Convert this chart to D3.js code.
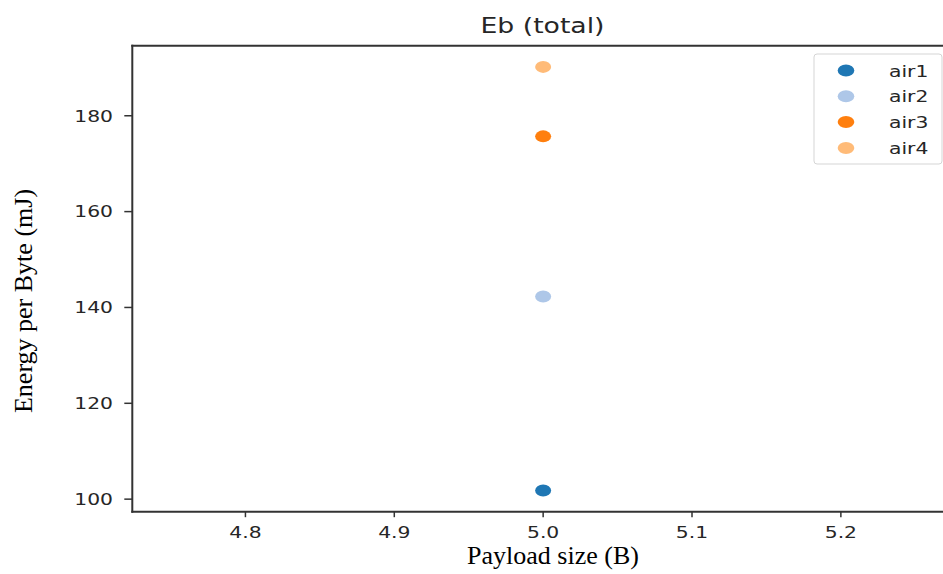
<!DOCTYPE html>
<html>
<head>
<meta charset="utf-8">
<script src="https://cdn.jsdelivr.net/npm/d3@7"></script>
<style>
  html, body { margin: 0; padding: 0; background: #fff; }
  svg { display: block; }
</style>
</head>
<body>
<svg id="chart" width="943" height="574"></svg>
<script>
// ---- data ----
const series = ["air1", "air2", "air3", "air4"];
const payload = [5.0, 5.0, 5.0, 5.0];
const energy = [101.8, 142.3, 175.7, 190.2];
const colors = ["#1f77b4", "#aec7e8", "#ff7f0e", "#ffbb78"];
const xTicks = [4.8, 4.9, 5.0, 5.1, 5.2];
const yTicks = [100, 120, 140, 160, 180];
const titleText = "Eb (total)";
const xLabel = "Payload size (B)";
const yLabel = "Energy per Byte (mJ)";

// ---- layout ----
const W = 943, H = 574;
const plot = { left: 132.3, top: 45.7, bottom: 511.7, right: 954 };
const SX = 1.27; // horizontal stretch of sans text in the reference
const sans = "'DejaVu Sans', sans-serif";
const serif = "'Liberation Serif', 'Times New Roman', serif";

const svg = d3.select("#chart");

// y domain with matplotlib-like 5% margins
const yMin = d3.min(energy), yMax = d3.max(energy);
const pad = (yMax - yMin) * 0.05;
const y = d3.scaleLinear().domain([yMin - pad, yMax + pad]).range([plot.bottom, plot.top]);
const x = d3.scaleLinear().domain([4.724, 5.276]).range([plot.left, plot.right]);

function sText(g, px, py, txt, size, anchor) {
  return g.append("text")
    .attr("transform", `translate(${px},${py}) scale(${SX},1)`)
    .attr("text-anchor", anchor)
    .attr("font-family", sans)
    .attr("font-size", size)
    .attr("fill", "#262626")
    .text(txt);
}

// ---- points ----
const pts = svg.append("g");
series.forEach((s, i) => {
  pts.append("ellipse")
    .attr("cx", x(payload[i]))
    .attr("cy", y(energy[i]))
    .attr("rx", 8).attr("ry", 6)
    .attr("fill", colors[i]);
});

// ---- axes ----
const axG = svg.append("g");
// spines
axG.append("line").attr("x1", plot.left).attr("x2", plot.left).attr("y1", plot.top - 1).attr("y2", plot.bottom + 1)
  .attr("stroke", "#333").attr("stroke-width", 2);
axG.append("line").attr("x1", plot.left - 1).attr("x2", W + 5).attr("y1", plot.bottom).attr("y2", plot.bottom)
  .attr("stroke", "#333").attr("stroke-width", 2);
axG.append("line").attr("x1", plot.left - 1).attr("x2", W + 5).attr("y1", plot.top).attr("y2", plot.top)
  .attr("stroke", "#333").attr("stroke-width", 2);

// y ticks
yTicks.forEach(t => {
  const py = y(t);
  axG.append("line").attr("x1", plot.left - 8).attr("x2", plot.left).attr("y1", py).attr("y2", py)
    .attr("stroke", "#333").attr("stroke-width", 1.5);
  sText(axG, 113, py + 5.8, d3.format("d")(t), 16, "end");
});
// x ticks
xTicks.forEach(t => {
  const px = x(t);
  axG.append("line").attr("x1", px).attr("x2", px).attr("y1", plot.bottom).attr("y2", plot.bottom + 5.5)
    .attr("stroke", "#333").attr("stroke-width", 1.5);
  sText(axG, px, 537.5, d3.format(".1f")(t), 16, "middle");
});

// ---- title & labels ----
sText(svg, 542.5, 33, titleText, 21, "middle");

svg.append("text")
  .attr("x", 553).attr("y", 564)
  .attr("text-anchor", "middle")
  .attr("font-family", serif).attr("font-size", 26)
  .attr("fill", "#000")
  .text(xLabel);

svg.append("text")
  .attr("transform", `translate(32,301) rotate(-90)`)
  .attr("text-anchor", "middle")
  .attr("font-family", serif).attr("font-size", 26)
  .attr("fill", "#000")
  .text(yLabel);

// ---- legend ----
const lg = svg.append("g");
lg.append("rect").attr("x", 814).attr("y", 54).attr("width", 128).attr("height", 110)
  .attr("rx", 3).attr("ry", 3)
  .attr("fill", "#fff").attr("fill-opacity", 0.8)
  .attr("stroke", "#d5d5d5").attr("stroke-width", 1);
series.forEach((s, i) => {
  const ly = 70.5 + i * 25.8;
  lg.append("ellipse").attr("cx", 846).attr("cy", ly).attr("rx", 8.3).attr("ry", 6).attr("fill", colors[i]);
  sText(lg, 889, ly + 6, s, 16, "start");
});
</script>
</body>
</html>
